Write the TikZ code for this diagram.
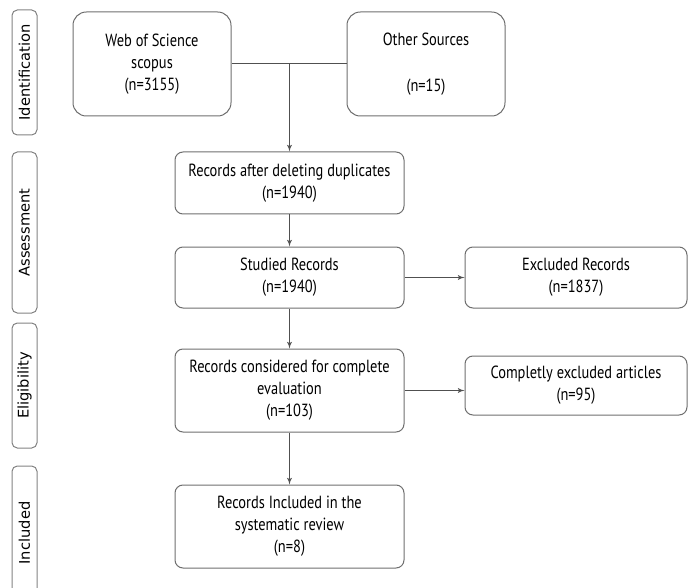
\documentclass[tikz,border=0pt]{standalone}
\usepackage{fontspec}
\setmainfont{PT Sans}[FakeStretch=0.82]
\newfontfamily\sidefont{DejaVu Sans}
\usetikzlibrary{arrows}

\begin{document}
\begin{tikzpicture}[x=0.75pt,y=0.75pt,yscale=-1,xscale=1,
  mainbox/.style={draw={rgb, 255:red, 110; green, 110; blue, 110 }, line width=0.75, rounded corners=6pt, align=center, inner sep=2pt, font=\fontsize{13.2}{16.5}\selectfont},
  sidebox/.style={draw={rgb, 255:red, 130; green, 130; blue, 130 }, line width=0.75, rounded corners=4pt, rotate=90, inner sep=1pt, minimum height=18.75pt, font=\sidefont\fontsize{11}{13}\selectfont},
  link/.style={draw={rgb, 255:red, 80; green, 80; blue, 80 }, line width=0.75},
  >=latex']
\useasboundingbox (0,0) rectangle (689,588);

% Side Labels
\node [sidebox, minimum width=93.75pt] (ident) at (24.5,72.5) {Identification};
\node [sidebox, minimum width=120.75pt] (assess) at (24.5,232.5) {Assessment};
\node [sidebox, minimum width=93.75pt] (elig) at (24.5,385.5) {Eligibility};
\node [sidebox, minimum width=100.5pt] (incl) at (24.5,533) {Included};

% Boxes
\node [mainbox, rounded corners=10pt, minimum width=118.5pt, minimum height=78pt] (wos) at (152,64) {Web of Science\\scopus\\(n=3155)};
\node [mainbox, rounded corners=10pt, minimum width=118.5pt, minimum height=78pt] (other) at (426,64) {Other Sources\\[18pt](n=15)};
\node [mainbox, minimum width=171.75pt, minimum height=46.5pt] (dedup) at (289.5,183) {Records after deleting duplicates\\(n=1940)};
\node [mainbox, minimum width=171.75pt, minimum height=45.75pt] (studied) at (289.5,277.5) {Studied Records\\(n=1940)};
\node [mainbox, minimum width=171.75pt, minimum height=62.25pt] (considered) at (289.5,390.5) {Records considered for complete\\evaluation\\(n=103)};
\node [mainbox, minimum width=171.75pt, minimum height=62.25pt] (final) at (289.5,526.5) {Records Included in the\\systematic review\\(n=8)};
\node [mainbox, minimum width=166.5pt, minimum height=45.75pt] (excluded) at (576,277.5) {Excluded Records\\(n=1837)};
\node [mainbox, minimum width=166.5pt, minimum height=44.25pt] (complete) at (576,385.5) {Completly excluded articles\\(n=95)};

% Connectors
\coordinate (join) at (wos.east -| dedup.north);
\draw [link] (wos.east) -- (other.west);
\draw [link, ->] (join) -- (dedup.north);
\draw [link, ->] (dedup.south) -- (studied.north);
\draw [link, ->] (studied.south) -- (considered.north);
\draw [link, ->] (considered.south) -- (final.north);
\draw [link, ->] (studied.east) -- (excluded.west);
\draw [link, ->] (considered.east) -- (considered.east -| complete.west);

\end{tikzpicture}
\end{document}
